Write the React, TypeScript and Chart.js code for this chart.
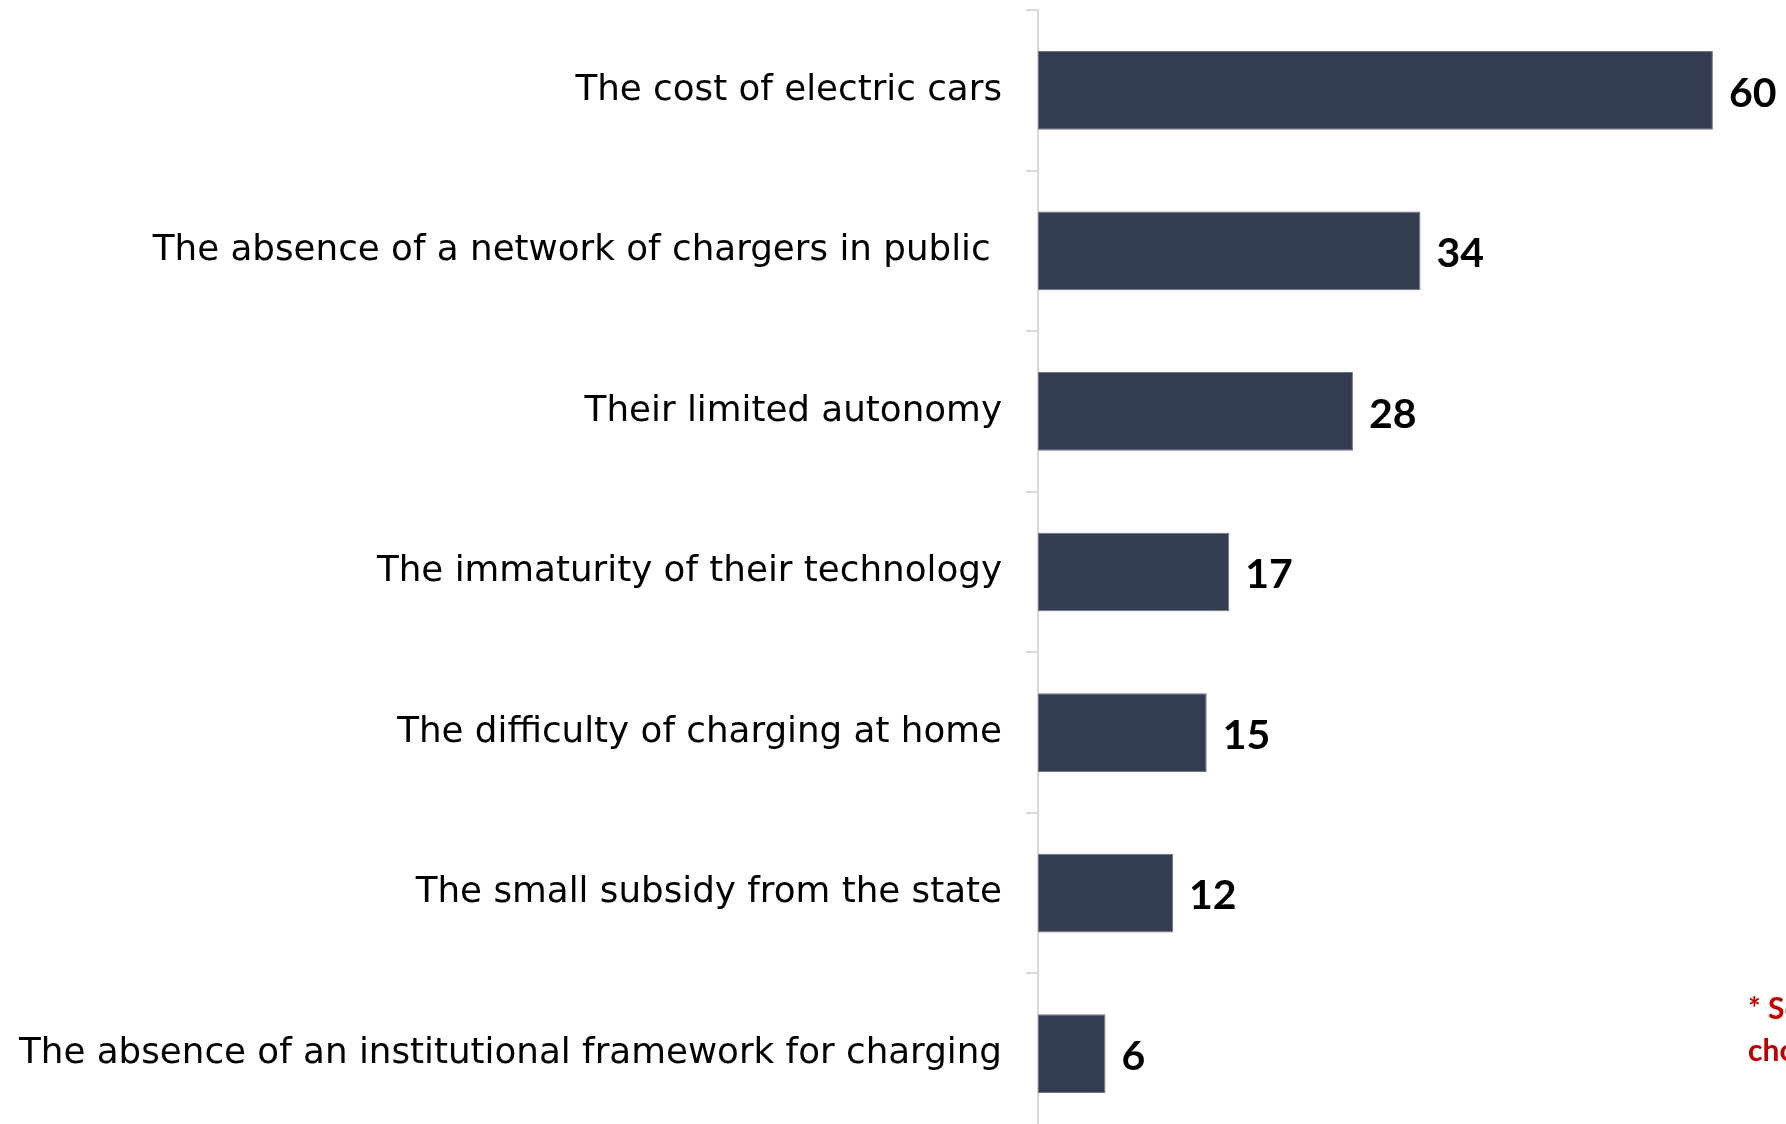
import React, { useEffect, useRef } from "react";
import { Chart, registerables } from "chart.js";

Chart.register(...registerables);

const categories = [
  "The cost of electric cars",
  "The absence of a network of chargers in public ",
  "Their limited autonomy",
  "The immaturity of their technology",
  "The difficulty of charging at home",
  "The small subsidy from the state",
  "The absence of an institutional framework for charging",
];
const values = [60, 34, 28, 17, 15, 12, 6];
const footnoteLines = ["* Several", "choices possible"];
const xMax = 66.5;

const valueLabelPlugin = {
  id: "valueLabels",
  afterDatasetsDraw(chart: any) {
    const ctx = chart.ctx;
    const meta = chart.getDatasetMeta(0);
    ctx.save();
    ctx.font = "bold 41px Lato";
    ctx.fillStyle = "#000000";
    ctx.textAlign = "left";
    ctx.textBaseline = "middle";
    meta.data.forEach((el: any, i: number) => {
      ctx.fillText(String(values[i]), el.x + 16, el.y + 3);
    });
    ctx.restore();
  },
};

export default function App() {
  const ref = useRef<HTMLCanvasElement | null>(null);
  useEffect(() => {
    if (!ref.current) return;
    const chart = new Chart(ref.current, {
      type: "bar",
      data: {
        labels: categories,
        datasets: [
          {
            data: values,
            backgroundColor: "#343D4F",
            borderColor: "#6b7586",
            borderWidth: 1,
            borderSkipped: false,
            categoryPercentage: 1,
            barPercentage: 0.49,
          },
        ],
      },
      options: {
        indexAxis: "y",
        animation: false,
        responsive: false,
        maintainAspectRatio: false,
        layout: { padding: { top: 10, left: 0, right: 0, bottom: 0 } },
        plugins: { legend: { display: false }, tooltip: { enabled: false } },
        scales: {
          x: { display: false, min: 0, max: xMax },
          y: {
            type: "category",
            afterFit(scale: any) {
              scale.width = 1038;
              scale.paddingTop = 0;
              scale.paddingBottom = 0;
            },
            grid: {
              offset: true,
              drawOnChartArea: false,
              drawTicks: true,
              tickLength: 12,
              color: "#d9d9d9",
              lineWidth: 2,
            },
            border: { display: true, color: "#d9d9d9", width: 2 },
            ticks: {
              color: "#000000",
              font: { family: "DejaVu Sans", size: 35.7 },
              padding: 24,
              autoSkip: false,
            },
          },
        },
      },
      plugins: [valueLabelPlugin],
    });
    return () => chart.destroy();
  }, []);

  return (
    <div
      style={{
        position: "fixed",
        left: 0,
        top: 0,
        width: 1786,
        height: 1124,
        overflow: "hidden",
        background: "#ffffff",
      }}
    >
      <canvas ref={ref} width={1786} height={1134} style={{ display: "block" }} />
      <div
        style={{
          position: "absolute",
          left: 1748,
          top: 986,
          color: "#C00000",
          fontFamily: "Lato",
          fontWeight: "bold",
          fontSize: 30,
          lineHeight: "42px",
          whiteSpace: "nowrap",
        }}
      >
        {footnoteLines.map((l, i) => (
          <div key={i}>{l}</div>
        ))}
      </div>
    </div>
  );
}
